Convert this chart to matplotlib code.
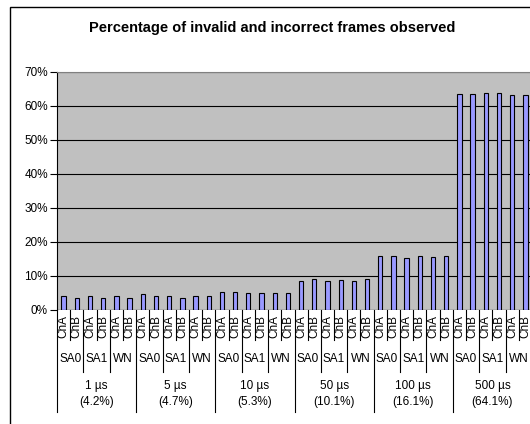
import matplotlib
matplotlib.use("Agg")
import matplotlib.pyplot as plt
from matplotlib.patches import Rectangle
from matplotlib.lines import Line2D

plt.rcParams['font.family'] = ['Liberation Sans', 'DejaVu Sans']

durations = ['1 µs', '5 µs', '10 µs', '50 µs', '100 µs', '500 µs']
averages = ['(4.2%)', '(4.7%)', '(5.3%)', '(10.1%)', '(16.1%)', '(64.1%)']
faults = ['SA0', 'SA1', 'WN']
channels = ['ChA', 'ChB']
values = [
    4.1, 3.6, 4.0, 3.6, 4.0, 3.6,        # 1 us
    4.6, 4.0, 4.0, 3.6, 4.0, 4.0,        # 5 us
    5.2, 5.2, 4.9, 4.9, 4.9, 4.9,        # 10 us
    8.4, 9.0, 8.4, 8.7, 8.4, 9.0,        # 50 us
    15.9, 15.9, 15.2, 15.9, 15.6, 15.9,  # 100 us
    63.5, 63.5, 63.9, 63.9, 63.3, 63.3,  # 500 us
]
yticks = [0, 10, 20, 30, 40, 50, 60, 70]

W, H = 530, 424
fig = plt.figure(figsize=(W / 100, H / 100), dpi=100)
fig.patch.set_facecolor('white')

# outer chart border (cropped at right and bottom)
fig.patches.append(Rectangle((10 / W, -0.2), 1.5, 1 - 7 / H + 0.2,
                             transform=fig.transFigure, fill=False,
                             edgecolor='black', lw=1.0))

left_px, right_px, top_px, bot_px = 57, 532, 72, 310
ax = fig.add_axes([left_px / W, 1 - bot_px / H,
                   (right_px - left_px) / W, (bot_px - top_px) / H])
ax.set_facecolor('#C0C0C0')

n = len(values)
xs = [i + 0.5 for i in range(n)]
ax.bar(xs, values, width=0.33, color='#9999FF', edgecolor='black',
       linewidth=0.8, zorder=3)

ax.set_xlim(0, n)
ax.set_ylim(0, 70)
ax.set_yticks(yticks)
ax.set_yticklabels([f'{v}%' for v in yticks], fontsize=8.5)
ax.yaxis.grid(True, color='black', linewidth=0.8, zorder=1)
ax.set_axisbelow(True)
ax.tick_params(axis='y', length=5, width=0.8, pad=1.5, color='black')
ax.set_xticks([])
for s in ['right', 'bottom']:
    ax.spines[s].set_visible(False)
ax.spines['top'].set_color('#808080')
ax.spines['left'].set_color('black')
ax.spines['left'].set_linewidth(0.8)
ax.axhline(0, color='black', lw=0.8, zorder=4)

ph = bot_px - top_px
tr = ax.get_xaxis_transform()

def yp(px):
    return -(px - bot_px) / ph

# category separators
for b in range(n + 1):
    if b % 6 == 0:
        y_end = 412
    elif b % 2 == 0:
        y_end = 372
    else:
        y_end = 340
    ax.add_line(Line2D([b, b], [yp(bot_px), yp(y_end)], transform=tr,
                       color='black', lw=0.8, clip_on=False))

# level 1: channels
for i in range(n):
    ax.text(i + 0.5, yp(327), channels[i % 2], transform=tr, rotation=90,
            ha='center', va='center', fontsize=8.5)
# level 2: fault types
for j in range(n // 2):
    ax.text(2 * j + 1, yp(359), faults[j % 3], transform=tr,
            ha='center', va='center', fontsize=8.5)
# level 3: durations
for k in range(len(durations)):
    ax.text(6 * k + 3, yp(386), durations[k], transform=tr,
            ha='center', va='center', fontsize=8.5)
    ax.text(6 * k + 3, yp(402), averages[k], transform=tr,
            ha='center', va='center', fontsize=8.5)

fig.text(272 / W, 1 - 28 / H, 'Percentage of invalid and incorrect frames observed',
         ha='center', va='center', fontsize=10.5, fontweight='bold')

fig.savefig('out.png', dpi=100)
